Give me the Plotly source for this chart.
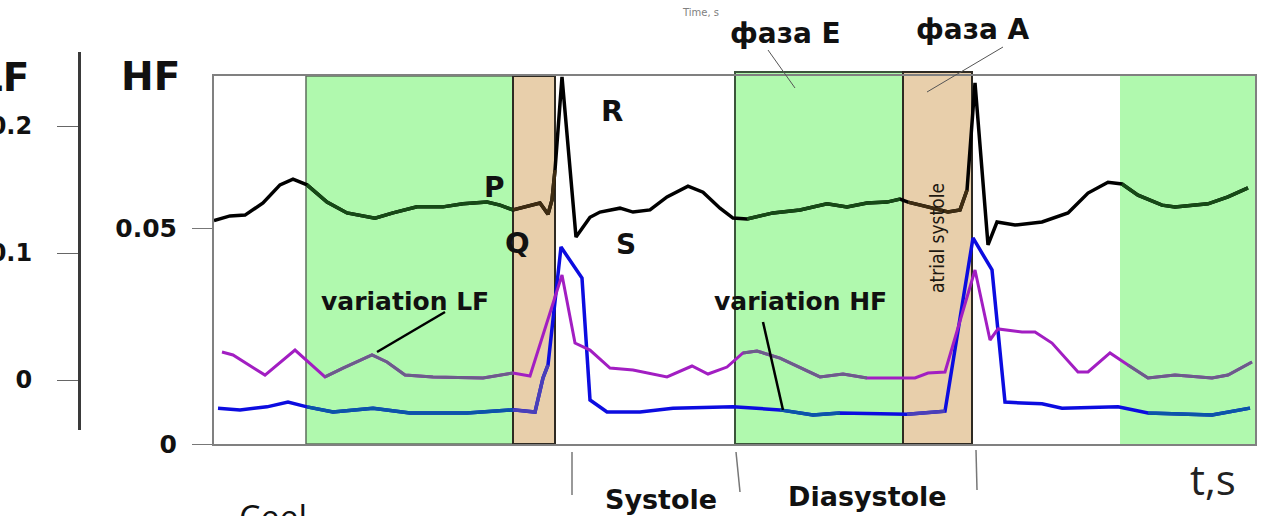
import plotly.graph_objects as go

W, H = 1267, 516

# ---------------- data (time in s, amplitudes) ----------------
ecg_t = [0.000, 0.032, 0.062, 0.098, 0.132, 0.158, 0.186, 0.226, 0.266, 0.322,
         0.358, 0.406, 0.458, 0.498, 0.546, 0.572, 0.598, 0.626, 0.652, 0.668,
         0.676, 0.682, 0.696, 0.724, 0.752, 0.772, 0.812, 0.838, 0.872, 0.906,
         0.948, 0.978, 1.012, 1.038, 1.066, 1.118, 1.172, 1.226, 1.266, 1.306,
         1.346, 1.372, 1.388, 1.428, 1.468, 1.492, 1.506, 1.522, 1.548, 1.566,
         1.602, 1.656, 1.708, 1.748, 1.788, 1.816, 1.848, 1.896, 1.922, 1.988,
         2.028, 2.068]
ecg_v = [0.0517, 0.0528, 0.0530, 0.0558, 0.0600, 0.0613, 0.0600, 0.0560, 0.0535, 0.0523,
         0.0535, 0.0549, 0.0549, 0.0556, 0.0560, 0.0553, 0.0542, 0.0551, 0.0558, 0.0532,
         0.0565, 0.0634, 0.0850, 0.0479, 0.0525, 0.0537, 0.0546, 0.0537, 0.0542, 0.0572,
         0.0597, 0.0583, 0.0546, 0.0523, 0.0521, 0.0535, 0.0542, 0.0556, 0.0549, 0.0558,
         0.0560, 0.0567, 0.0560, 0.0549, 0.0537, 0.0542, 0.0588, 0.0836, 0.0461, 0.0514,
         0.0507, 0.0514, 0.0535, 0.0581, 0.0606, 0.0602, 0.0576, 0.0553, 0.0549, 0.0556,
         0.0572, 0.0593]

lf_t = [0.016, 0.038, 0.102, 0.162, 0.222, 0.258, 0.316, 0.346, 0.382, 0.438,
        0.538, 0.598, 0.632, 0.696, 0.722, 0.752, 0.792, 0.838, 0.906, 0.956,
        0.988, 1.026, 1.058, 1.086, 1.132, 1.212, 1.258, 1.306, 1.402, 1.428,
        1.462, 1.522, 1.552, 1.568, 1.616, 1.642, 1.676, 1.728, 1.748, 1.792,
        1.828, 1.868, 1.922, 1.996, 2.028, 2.076]
lf_v = [0.0220, 0.0197, 0.0039, 0.0236, 0.0024, 0.0094, 0.0197, 0.0142, 0.0039, 0.0024,
        0.0016, 0.0055, 0.0031, 0.0827, 0.0291, 0.0236, 0.0094, 0.0079, 0.0024, 0.0110,
        0.0047, 0.0102, 0.0213, 0.0228, 0.0173, 0.0024, 0.0047, 0.0016, 0.0016, 0.0055,
        0.0063, 0.0866, 0.0315, 0.0402, 0.0378, 0.0378, 0.0291, 0.0063, 0.0063, 0.0213,
        0.0118, 0.0016, 0.0039, 0.0016, 0.0039, 0.0142]

hf_t = [0.008, 0.052, 0.106, 0.148, 0.186, 0.238, 0.318, 0.392, 0.506, 0.598,
        0.642, 0.658, 0.668, 0.694, 0.736, 0.752, 0.786, 0.852, 0.918, 1.038,
        1.132, 1.198, 1.252, 1.386, 1.462, 1.518, 1.556, 1.582, 1.616, 1.656,
        1.696, 1.808, 1.868, 1.996, 2.072]
hf_v = [0.0083, 0.0079, 0.0086, 0.0097, 0.0086, 0.0074, 0.0083, 0.0072, 0.0072, 0.0079,
        0.0074, 0.0153, 0.0183, 0.0456, 0.0384, 0.0102, 0.0074, 0.0074, 0.0083, 0.0086,
        0.0079, 0.0067, 0.0072, 0.0069, 0.0076, 0.0477, 0.0403, 0.0097, 0.0095, 0.0093,
        0.0083, 0.0086, 0.0072, 0.0067, 0.0083]

# phase intervals (s)
green_start = [0.184, 1.042, 1.812]
green_end = [0.598, 1.378, 2.082]
tan_start = [0.598, 1.378]
tan_end = [0.682, 1.516]

hf_ticks = [0, 0.05]
hf_ticktext = ["0", "0.05"]
lf_ticks = [0, 0.1, 0.2]
lf_ticktext = ["0", "0.1", "0.2"]


def P(x, y):
    return x / W, 1 - y / H


def masked(ts, vs, starts, ends):
    out = []
    for t, v in zip(ts, vs):
        inside = any(s <= t <= e for s, e in zip(starts, ends))
        out.append(v if inside else None)
    return out


fig = go.Figure()

# HF variation (blue)
fig.add_trace(go.Scatter(x=hf_t, y=hf_v, mode="lines", line=dict(color="#0c0ce0", width=3.5)))
fig.add_trace(go.Scatter(x=hf_t, y=masked(hf_t, hf_v, green_start, green_end), mode="lines",
                         line=dict(color="#0b55a8", width=3.5), connectgaps=False))
fig.add_trace(go.Scatter(x=hf_t, y=masked(hf_t, hf_v, tan_start, tan_end), mode="lines",
                         line=dict(color="#4a3fb8", width=3.5), connectgaps=False))

# ECG
fig.add_trace(go.Scatter(x=ecg_t, y=ecg_v, mode="lines", line=dict(color="#000000", width=3.5)))
fig.add_trace(go.Scatter(x=ecg_t, y=masked(ecg_t, ecg_v, green_start, green_end), mode="lines",
                         line=dict(color="#164a16", width=3.5), connectgaps=False))
fig.add_trace(go.Scatter(x=ecg_t, y=masked(ecg_t, ecg_v, tan_start, tan_end), mode="lines",
                         line=dict(color="#3e2c12", width=3.5), connectgaps=False))

# LF variation (purple) on LF axis
fig.add_trace(go.Scatter(x=lf_t, y=lf_v, yaxis="y2", mode="lines", line=dict(color="#a21ec2", width=3)))
fig.add_trace(go.Scatter(x=lf_t, y=masked(lf_t, lf_v, green_start, green_end), yaxis="y2", mode="lines",
                         line=dict(color="#6b5d8a", width=3), connectgaps=False))

shapes = []
# green phases
green_tops = [1.0, 1.011, 1.0]
green_lines = [dict(color="#5c6e5c", width=1.5), dict(color="#3b553b", width=2), dict(width=0)]
for s, e, top, ln in zip(green_start, green_end, green_tops, green_lines):
    shapes.append(dict(type="rect", xref="x", yref="y domain", x0=s, x1=e, y0=0, y1=top,
                       fillcolor="#b0f9ae", line=ln, layer="below"))
# tan (atrial systole) phases
tan_tops = [1.0, 1.011]
for s, e, top in zip(tan_start, tan_end, tan_tops):
    shapes.append(dict(type="rect", xref="x", yref="y domain", x0=s, x1=e, y0=0, y1=top,
                       fillcolor="#e8cfab", line=dict(color="#2e2a22", width=2), layer="below"))


def seg(p0, p1, color, width):
    x0, y0 = P(*p0)
    x1, y1 = P(*p1)
    return dict(type="line", xref="paper", yref="paper", x0=x0, y0=y0, x1=x1, y1=y1,
                line=dict(color=color, width=width))


shapes += [
    seg((768, 50), (795, 88), "#555555", 1),
    seg((1003, 47), (927, 92), "#555555", 1),
    seg((445, 312), (377, 352), "#000000", 2.5),
    seg((763, 322), (783, 410), "#000000", 2.5),
    seg((572, 452), (572, 495), "#777777", 1.5),
    seg((736, 452), (740, 492), "#777777", 1.5),
    seg((976, 450), (977, 490), "#777777", 1.5),
]

BOLD = "DejaVu Sans"


def ann(text, x, y, size, bold=True, color="#111111", family=BOLD, xanchor="center",
        yanchor="middle", angle=0):
    px, py = P(x, y)
    return dict(text=text, x=px, y=py, xref="paper", yref="paper", showarrow=False,
                xanchor=xanchor, yanchor=yanchor, textangle=angle,
                font=dict(family=family, size=size, color=color,
                          weight="bold" if bold else "normal"))


annotations = [
    ann("Time, s", 700, 12, 10, bold=False, color="#808080", family="DejaVu Sans"),
    ann("фаза E", 785, 33, 28),
    ann("фаза A", 973, 30, 28),
    ann("R", 612, 111, 29),
    ann("P", 494, 187, 28),
    ann("Q", 517, 243, 29),
    ann("S", 626, 245, 28),
    ann("variation LF", 405, 301, 25),
    ann("variation HF", 800, 301, 25),
    ann("atrial systole", 937, 238, 19, bold=False, color="#1e1810",
        family="Liberation Sans Narrow, DejaVu Sans Condensed, Roboto Condensed, Arial Narrow, sans-serif",
        angle=-90),
    ann("HF", 150, 76, 39),
    ann("LF", 32, 77, 39, xanchor="right"),
    ann("t,s", 1213, 478, 42, bold=False, color="#222222", family="Open Sans"),
    ann("Systole", 661, 499, 27),
    ann("Diasystole", 867, 496, 27),
    ann("Ceel", 237, 492, 34, bold=False, color="#111111", family="Open Sans",
        xanchor="left", yanchor="top"),
]

fig.update_layout(
    template="none",
    width=W, height=H, autosize=False,
    margin=dict(l=0, r=0, t=0, b=0, pad=0),
    paper_bgcolor="white", plot_bgcolor="rgba(0,0,0,0)",
    showlegend=False,
    font=dict(family=BOLD, color="#111111"),
    xaxis=dict(domain=[214 / W, 1255 / W], range=[0, 2.082], showticklabels=False, ticks="",
               showgrid=False, zeroline=False, showline=True, mirror=True,
               linecolor="#808080", linewidth=2, automargin=False, fixedrange=True),
    yaxis=dict(domain=[1 - 444 / H, 1 - 76 / H], range=[0, 0.0852],
               tickvals=hf_ticks, ticktext=hf_ticktext, ticks="outside", ticklen=20,
               tickcolor="#777777", tickwidth=1, ticklabelstandoff=10,
               tickfont=dict(family=BOLD, size=25, color="#111111", weight="bold"),
               showgrid=False, zeroline=False, showline=True, mirror=True,
               linecolor="#808080", linewidth=2, automargin=False),
    yaxis2=dict(domain=[1 - 430 / H, 1 - 52 / H], range=[(380 - 430) / 1270, (380 - 52) / 1270],
                anchor="free", position=79 / W, side="left",
                tickvals=lf_ticks, ticktext=lf_ticktext, ticks="outside", ticklen=21,
                tickcolor="#666666", tickwidth=1, ticklabelstandoff=20,
                tickfont=dict(family=BOLD, size=24, color="#111111", weight="bold"),
                showgrid=False, zeroline=False, showline=True, linecolor="#3a3a3a",
                linewidth=3, automargin=False),
    shapes=shapes,
    annotations=annotations,
)

fig.write_html("out.html")
